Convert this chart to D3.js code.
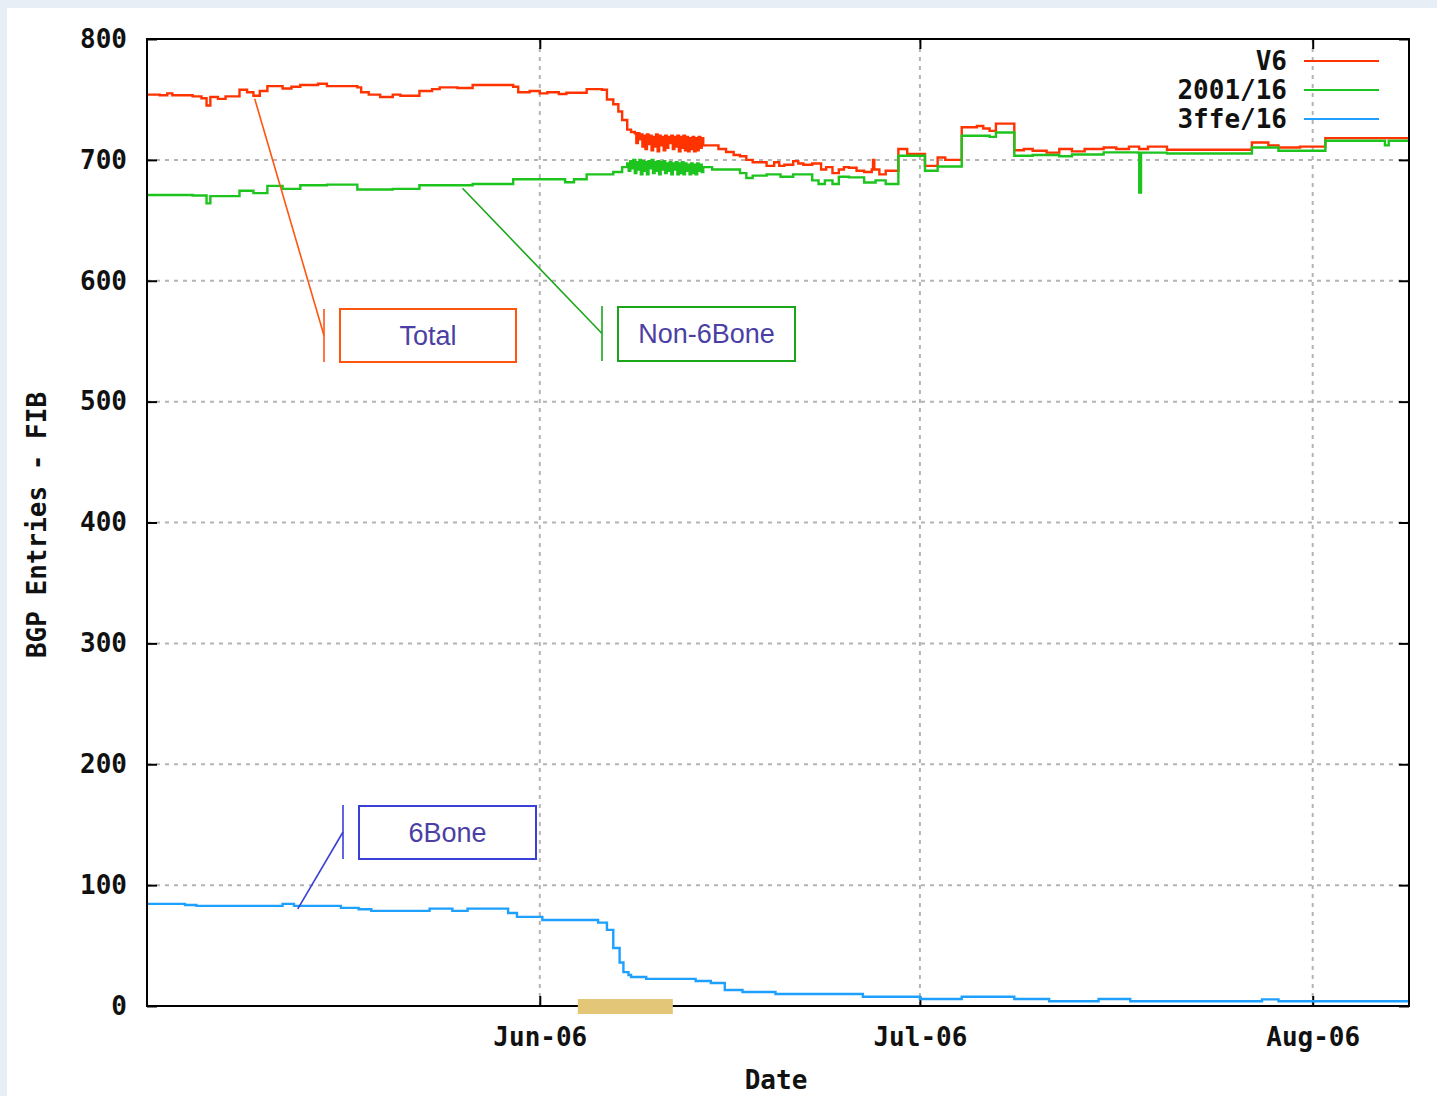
<!DOCTYPE html>
<html>
<head>
<meta charset="utf-8">
<script src="https://cdn.jsdelivr.net/npm/d3@7/dist/d3.min.js"></script>
<style>
  html, body { margin: 0; padding: 0; background: #e8eef5; }
  svg { display: block; }
</style>
</head>
<body>
<svg id="chart" width="1437" height="1096"></svg>
<script>
// ---- data (day offsets from 2006-05-01, value) ----
const startDate = "2006-05-01";
const endDay = 99.6;
const seriesNames = ["V6", "2001/16", "3ffe/16"];
const yTicks = [0, 100, 200, 300, 400, 500, 600, 700, 800];
const xTickLabels = ["Jun-06", "Jul-06", "Aug-06"];
const xTickDates = ["2006-06-01", "2006-07-01", "2006-08-01"];

const v6 = [[0,754],[1.0,753.5],[1.6,755],[2.0,753.5],[3.6,752.5],[4.3,751],[4.7,745],[5.0,752],[5.6,750.5],[6.2,752.5],[6.8,752.5],[7.3,758],[7.9,756],[8.4,753],[8.9,757],[9.5,761],[10.7,759],[11.4,760.5],[12.1,762],[13.5,763],[14.2,761],[16.6,760],[16.9,756],[17.5,754],[18.4,752],[19.4,754],[20.0,753],[21.5,757],[22.5,758.5],[23.1,760],[24.5,759.5],[25.7,762],[28.9,760.5],[29.3,756],[30.2,757],[31.0,755],[31.6,756],[32.5,754.5],[33.1,755.5],[34.7,758.5],[35.9,758],[36.3,750],[36.8,746],[37.2,740],[37.5,733],[37.9,725],[38.2,723],
  [38.5,722],[38.62,714],[38.74,722],[38.86,717],[38.98,721],[39.1,711],[39.22,720],[39.34,709],[39.46,721],[39.58,713],[39.7,720],[39.82,708],[39.94,719],[40.06,711],[40.18,721],[40.3,707],[40.42,720],[40.54,712],[40.66,719],[40.78,708],[40.9,720],[41.02,710],[41.14,719],[41.26,714],[41.38,720],[41.5,709],[41.62,719],[41.74,711],[41.86,720],[41.98,707],[42.1,719],[42.22,710],[42.34,720],[42.46,708],[42.58,719],[42.7,707],[42.82,718],[42.94,709],[43.06,719],[43.18,707],[43.3,718],[43.42,708],[43.54,719],[43.66,710],[43.78,718],[43.9,712],
  [44.6,712],[45.1,709],[45.7,706.5],[46.3,704],[46.8,703],[47.3,700],[47.8,698],[48.9,695],[49.5,698],[49.9,695],[50.3,696],[51.0,699],[51.4,697],[51.8,696],[52.5,697],[53.2,692],[53.6,694],[54.1,689],[54.6,692],[55.0,694],[55.4,693.5],[56.0,691],[56.6,690],[57.2,692],[57.3,700],[57.4,692],[57.8,688],[58.3,691],[59.3,709],[60.0,705],[61.4,695],[62.4,702],[63.0,700],[64.3,727],[65.5,728],[66.0,726],[66.5,724],[67.0,730],[68.45,708],[69.2,709],[69.9,707.5],[71.0,706],[72.0,709],[73.0,707],[74.0,709],[75.5,710.3],[76.5,709],[77.5,711],[78.3,709],[79.0,711],[80.5,708.4],[87.2,714.4],[88.5,712],[89.3,710.3],[91.0,711],[93.0,718],[99.6,718]];

const n2001 = [[0,671],[3.6,670.5],[4.7,664],[5.0,670],[7.3,674.5],[8.4,672.5],[9.5,678.5],[10.7,676],[12.1,679],[14.2,679.5],[16.6,675.5],[19.4,676],[21.5,679],[25.7,680],[28.9,684],[31.5,684],[33.0,681.5],[33.7,684],[34.7,688],[36.8,690],[37.5,694],
  [37.9,697],[38.02,691],[38.14,699],[38.26,693],[38.38,700],[38.5,689],[38.62,698],[38.74,692],[38.86,700],[38.98,688],[39.1,699],[39.22,691],[39.34,698],[39.46,688],[39.58,699],[39.7,693],[39.82,700],[39.94,689],[40.06,698],[40.18,691],[40.3,699],[40.42,688],[40.54,698],[40.66,692],[40.78,699],[40.9,689],[41.02,697],[41.14,691],[41.26,698],[41.38,688],[41.5,697],[41.62,692],[41.74,698],[41.86,688],[41.98,697],[42.1,689],[42.22,698],[42.34,688],[42.46,697],[42.58,691],[42.7,696],[42.82,688],[42.94,697],[43.06,689],[43.18,696],[43.3,688],[43.42,697],[43.54,691],[43.66,696],[43.78,690],
  [43.9,694],[44.6,692],[46.8,689],[47.3,685],[47.8,687],[48.9,688],[50.0,686],[51.0,688],[52.5,683],[53.0,680],[53.5,683],[54.1,680],[54.6,686],[55.4,685.5],[56.6,681.3],[57.5,683],[58.3,680],[59.3,703.4],[61.4,691],[62.4,694.5],[64.3,720],[66.5,719],[67.0,722.7],[68.45,703.4],[69.9,704],[72.0,703],[73.0,704.5],[75.5,706.2],[78.2,706],[78.31,673],[78.45,706],[80.5,705.3],[87.2,710.3],[89.3,707.5],[93.0,715.8],[97.5,715.8],[97.7,712],[98.0,715.8],[99.6,715.8]];

const n3ffe = [[0,84.5],[3.0,83.6],[3.9,82.8],[10.7,84.5],[11.6,82.8],[15.3,81.2],[16.7,80],[17.7,78.7],[22.3,80.6],[24.1,78.7],[25.3,80.6],[28.5,77],[29.2,73.7],[31.2,71.2],[35.6,69],[36.3,63],[36.8,48],[37.3,36],[37.6,28],[38.0,25.7],[38.2,24],[39.4,22.4],[43.3,20.7],[44.5,19],[45.6,13.2],[47.0,11.6],[49.6,9.9],[56.5,7.7],[61.0,5.8],[64.3,7.7],[68.45,5.8],[71.2,3.9],[75.1,5.8],[77.6,3.9],[88.0,5.5],[89.3,3.9],[99.6,3.9]];

const seriesColors = ["#ff3300", "#1ec41e", "#1ea0ff"];
const highlightDays = [34.0, 41.5];

// ---- layout ----
const svg = d3.select("#chart");
const L = 147, R = 1409, T = 39, B = 1006;
const day0 = new Date(startDate + "T00:00:00Z");
const toDate = d => new Date(day0.getTime() + d * 86400000);

const x = d3.scaleUtc().domain([toDate(0), toDate(endDay)]).range([L, R]);
const y = d3.scaleLinear().domain([0, 800]).range([B, T]);

svg.append("rect").attr("x", 7).attr("y", 8).attr("width", 1430).attr("height", 1088).attr("fill", "#ffffff");

const mono = "'DejaVu Sans Mono', monospace";

// grid
const grid = svg.append("g").attr("stroke", "#b4b4b4").attr("stroke-width", 2).attr("stroke-dasharray", "4,5");
yTicks.filter(v => v > 0 && v < 800).forEach(v => {
  grid.append("line").attr("x1", L).attr("x2", R).attr("y1", y(v)).attr("y2", y(v));
});
xTickDates.forEach(dt => {
  const xx = x(new Date(dt + "T00:00:00Z"));
  grid.append("line").attr("x1", xx).attr("x2", xx).attr("y1", T).attr("y2", B);
});

// axes (ticks inside, mirrored)
const yAxisL = d3.axisLeft(y).tickValues(yTicks).tickSize(-10).tickPadding(20).tickFormat(d3.format("d"));
const yAxisR = d3.axisRight(y).tickValues(yTicks).tickSize(-10).tickFormat("");
const xDates = xTickDates.map(dt => new Date(dt + "T00:00:00Z"));
const xAxisB = d3.axisBottom(x).tickValues(xDates).tickSize(-10).tickPadding(22).tickFormat((d, i) => xTickLabels[i]);
const xAxisT = d3.axisTop(x).tickValues(xDates).tickSize(-10).tickFormat("");

function styleAxis(g) {
  g.select(".domain").remove();
  g.selectAll(".tick line").attr("stroke", "#000").attr("stroke-width", 2);
  g.selectAll("text").attr("font-family", mono).attr("font-weight", "bold").attr("font-size", 26).attr("fill", "#111");
}
svg.append("g").attr("transform", `translate(${L},0)`).call(yAxisL).call(styleAxis);
svg.append("g").attr("transform", `translate(${R},0)`).call(yAxisR).call(styleAxis);
svg.append("g").attr("transform", `translate(0,${B})`).call(xAxisB).call(styleAxis);
svg.append("g").attr("transform", `translate(0,${T})`).call(xAxisT).call(styleAxis);

// series
const line = d3.line().x(d => x(toDate(d[0]))).y(d => y(d[1])).curve(d3.curveStepAfter);
[v6, n2001, n3ffe].forEach((s, i) => {
  svg.append("path").datum(s).attr("d", line).attr("fill", "none")
    .attr("stroke", seriesColors[i]).attr("stroke-width", 2.4);
});

// border
svg.append("rect").attr("x", L).attr("y", T).attr("width", R - L).attr("height", B - T)
  .attr("fill", "none").attr("stroke", "#000").attr("stroke-width", 2);

// legend
const legY = [61, 90, 119];
seriesNames.forEach((n, i) => {
  svg.append("text").attr("x", 1287).attr("y", legY[i]).attr("dy", "0.35em").attr("text-anchor", "end")
    .attr("font-family", mono).attr("font-weight", "bold").attr("font-size", 26).attr("fill", "#111").text(n);
  svg.append("line").attr("x1", 1304).attr("x2", 1379).attr("y1", legY[i]).attr("y2", legY[i])
    .attr("stroke", seriesColors[i]).attr("stroke-width", 2);
});

// axis titles
svg.append("text").attr("x", 776).attr("y", 1080).attr("dy", "0.35em").attr("text-anchor", "middle")
  .attr("font-family", mono).attr("font-weight", "bold").attr("font-size", 26).attr("fill", "#111").text("Date");
svg.append("text").attr("transform", "translate(37,525) rotate(-90)").attr("dy", "0.35em").attr("text-anchor", "middle")
  .attr("font-family", mono).attr("font-weight", "bold").attr("font-size", 26).attr("fill", "#111").text("BGP Entries - FIB");

// annotations (callouts)
const callouts = [
  {label: "Total", color: "#ff5511", box: [340, 309, 176, 53], bar: [324, 309, 362], tip: [v6, 8.5]},
  {label: "Non-6Bone", color: "#1aa51a", box: [618, 307, 177, 54], bar: [602, 306, 361], tip: [n2001, 24.9]},
  {label: "6Bone", color: "#3a3fd6", box: [359, 806, 177, 53], bar: [343, 805, 859], tip: [n3ffe, 11.9]}
];
callouts.forEach(c => {
  const [bx, by, bw, bh] = c.box;
  const [lx, ly1, ly2] = c.bar;
  const s = c.tip[0], td = c.tip[1];
  let tv = s[0][1];
  s.forEach(p => { if (p[0] <= td) tv = p[1]; });
  svg.append("line").attr("x1", lx).attr("y1", (ly1 + ly2) / 2).attr("x2", x(toDate(td))).attr("y2", y(tv) + 3)
    .attr("stroke", c.color).attr("stroke-width", 1.6);
  svg.append("line").attr("x1", lx).attr("x2", lx).attr("y1", ly1).attr("y2", ly2)
    .attr("stroke", c.color).attr("stroke-width", 1.6);
  svg.append("rect").attr("x", bx).attr("y", by).attr("width", bw).attr("height", bh)
    .attr("fill", "#fff").attr("stroke", c.color).attr("stroke-width", 2);
  svg.append("text").attr("x", bx + bw / 2).attr("y", by + bh / 2).attr("dy", "0.35em").attr("text-anchor", "middle")
    .attr("font-family", "'Liberation Sans', Arial, sans-serif").attr("font-size", 27).attr("fill", "#4b3fa5").text(c.label);
});

// highlighted period bar on x axis
svg.append("rect").attr("x", x(toDate(highlightDays[0]))).attr("y", 999)
  .attr("width", x(toDate(highlightDays[1])) - x(toDate(highlightDays[0])))
  .attr("height", 15).attr("fill", "#e3c677");
</script>
</body>
</html>
